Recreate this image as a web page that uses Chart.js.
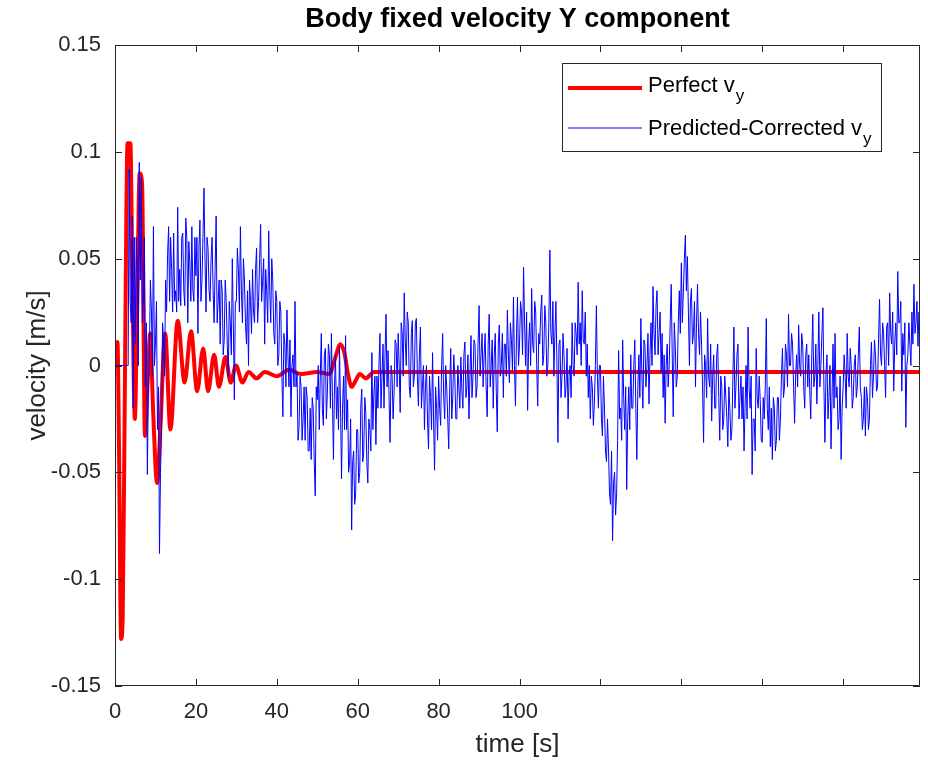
<!DOCTYPE html>
<html>
<head>
<meta charset="utf-8">
<title>Body fixed velocity Y component</title>
<script src="https://cdn.jsdelivr.net/npm/chart.js@4.4.1/dist/chart.umd.min.js"></script>
<style>
  body { margin: 0; background: #fff; }
  #wrap { width: 928px; height: 767px; }
</style>
</head>
<body>
<div id="wrap"><canvas id="chart"></canvas></div>
<script>
// axes
const xTicks = [0, 20, 40, 60, 80, 100, 120, 140, 160, 180];
const xLabels = ['0', '20', '40', '60', '80', '100', '', '', '', ''];
const yTicks = [-0.15, -0.1, -0.05, 0, 0.05, 0.1, 0.15];
const yLabels = ['-0.15', '-0.1', '-0.05', '0', '0.05', '0.1', '0.15'];

// Perfect v_y (time [s], velocity [m/s])
const perfectT = [0, 0.6, 1.0, 1.5, 1.9, 2.4, 2.8, 3.1, 3.8, 4.3, 4.9, 5.5, 6.1, 6.7, 7.4, 8.0, 8.7, 9.4,
  10.4, 11.2, 12.4, 13.7, 15.5, 17.2, 18.8, 20.3, 21.8, 23.0, 24.5, 25.7, 27.3, 28.6, 29.9, 31.5,
  33, 35, 37, 40, 43, 46, 50, 53, 54.5, 55.7, 56.7, 57.6, 58.5, 59.5, 60.5, 62, 64, 70, 100, 150, 199];
const perfectV = [0.008, 0.011, -0.04, -0.128, -0.118, -0.02, 0.07, 0.104, 0.104, 0.04, -0.025, 0.03,
  0.09, 0.085, -0.033, -0.01, 0.015, -0.02, -0.055, -0.03, 0.015, -0.03, 0.021, -0.008, 0.016,
  -0.012, 0.008, -0.012, 0.005, -0.01, 0.004, -0.008, 0.0, -0.008, -0.003, -0.006, -0.003, -0.005,
  -0.002, -0.004, -0.003, -0.004, 0.004, 0.010, 0.006, -0.004, -0.01, -0.007, -0.004, -0.006,
  -0.003, -0.003, -0.003, -0.003, -0.003];

// Predicted-Corrected v_y, one sample every 0.25 s from t = 0
const predictedStep = 0.25;
const predictedV = [
  0, 0, 0, 0, 0, 0, 0, 0, 0, 0, 0, 0, 0, 0, 0.092, 0.03, 0.02, 0.07, -0.02, 0.06,
  0.01, 0.06, 0.045, 0.0, 0.095, 0.04, 0.088, 0.02, 0.03, 0.06, -0.01, 0.02, -0.051, -0.01, 0.005, 0.04, 0.026, -0.005, 0.065, 0.0,
  0.01, 0.03, -0.03, -0.01, -0.088, -0.05, -0.03, 0.02, 0.012, -0.005, 0.04, 0.025, 0.052, 0.065, 0.03, 0.06, 0.045, 0.025, 0.062, 0.03,
  0.035, 0.025, 0.074, 0.03, 0.045, 0.028, 0.06, 0.062, 0.035, 0.028, 0.069, 0.06, 0.02, 0.058, 0.048, 0.03, 0.065, 0.035, 0.03, 0.06,
  0.042, 0.06, 0.015, 0.055, 0.068, 0.03, 0.04, 0.06, 0.083, 0.05, 0.025, 0.06, 0.055, 0.035, 0.03, 0.05, 0.06, 0.035, 0.02, 0.045,
  0.07, 0.02, 0.03, 0.04, 0.01, 0.04, 0.035, 0.005, 0.012, 0.04, 0.03, 0.01, -0.005, 0.03, 0.02, 0.005, 0.05, 0.02, -0.016, 0.03,
  0.03, 0.055, 0.045, 0.025, 0.065, 0.035, 0.02, 0.05, 0.04, 0.02, 0.01, 0.035, 0.0, 0.04, 0.03, 0.015, 0.045, 0.025, 0.02, 0.045,
  0.055, 0.02, 0.03, 0.05, 0.066, 0.03, 0.04, 0.05, 0.01, 0.045, 0.035, 0.02, 0.063, 0.035, 0.02, 0.05, 0.04, 0.015, 0.01, 0.035,
  0.03, 0.0, 0.005, 0.03, 0.025, -0.005, -0.024, 0.015, 0.01, -0.01, 0.026, 0.005, -0.01, 0.012, -0.024, 0.0, 0.005, -0.01, 0.03, -0.01,
  -0.003, -0.035, -0.029, -0.005, -0.01, -0.035, -0.025, -0.01, -0.035, -0.01, -0.015, -0.04, -0.04, -0.02, -0.044, -0.015, -0.02, -0.045, -0.061, -0.01,
  -0.016, 0.0, -0.03, -0.005, 0.015, -0.02, -0.028, 0.005, 0.008, -0.025, -0.013, 0.01, 0.005, -0.02, 0.015, -0.015, -0.044, -0.01, 0.005, -0.025,
  -0.01, -0.03, 0.009, -0.02, -0.053, -0.02, -0.005, -0.03, 0.014, -0.03, -0.016, -0.05, -0.045, -0.025, -0.077, -0.045, -0.04, -0.065, -0.06, -0.03,
  -0.03, -0.055, -0.05, -0.02, -0.011, -0.045, -0.04, -0.015, -0.022, -0.045, -0.055, -0.025, -0.03, -0.04, 0.006, -0.03, -0.013, -0.005, -0.037, -0.005,
  -0.02, 0.0, 0.015, -0.02, -0.005, 0.01, -0.02, 0.005, 0.024, -0.01, 0.007, -0.015, -0.036, 0.0, -0.005, -0.025, -0.012, 0.012, 0.01, -0.01,
  0.015, 0.0, -0.022, 0.02, 0.015, -0.005, 0.034, 0.012, 0.0, 0.025, 0.02, -0.01, -0.015, 0.015, 0.021, -0.01, -0.005, 0.02, 0.022, -0.005,
  -0.019, 0.005, 0.018, -0.02, -0.01, 0.0, -0.03, -0.01, 0.0, -0.025, -0.039, -0.005, -0.015, -0.03, 0.006, -0.025, -0.049, -0.01, -0.02, -0.035,
  -0.005, -0.02, -0.028, 0.0, 0.015, -0.015, -0.025, 0.0, -0.01, -0.025, -0.039, -0.01, 0.008, -0.025, -0.015, 0.005, -0.005, -0.025, -0.025, 0.0,
  -0.01, -0.02, 0.004, -0.012, -0.02, 0.005, 0.011, -0.015, -0.01, 0.005, -0.025, -0.005, 0.014, -0.015, -0.005, 0.012, 0.01, -0.015, -0.01, 0.01,
  0.028, -0.005, 0.005, 0.015, -0.01, 0.005, 0.015, -0.01, -0.024, 0.01, 0.024, -0.01, 0.0, 0.012, -0.02, 0.005, 0.015, -0.012, -0.031, 0.01,
  0.019, -0.005, 0.0, 0.015, -0.015, 0.01, 0.01, -0.005, 0.026, 0.005, -0.008, 0.02, 0.012, -0.002, 0.032, 0.0, -0.019, 0.015, 0.032, 0.0,
  0.01, 0.03, 0.025, 0.005, 0.046, 0.02, 0.0, 0.025, -0.021, 0.01, 0.02, 0.0, 0.036, 0.01, 0.006, 0.03, 0.025, 0.0, -0.019, 0.015,
  0.01, 0.025, 0.033, 0.0, 0.005, 0.028, 0.02, -0.005, 0.0, 0.02, 0.054, 0.015, 0.01, 0.03, -0.005, 0.015, 0.03, 0.0, -0.036, 0.01,
  0.012, -0.015, -0.005, 0.015, 0.005, -0.015, -0.01, 0.008, -0.025, -0.005, 0.0, -0.015, 0.02, 0.0, -0.005, 0.02, 0.015, 0.005, 0.039, 0.01,
  0.02, 0.0, 0.035, 0.012, 0.01, 0.025, -0.005, 0.01, -0.015, 0.0, -0.025, -0.005, -0.01, -0.028, -0.018, 0.0, 0.028, -0.005, -0.02, 0.0,
  0.0, -0.025, -0.033, -0.005, -0.02, -0.04, -0.045, -0.025, -0.04, -0.06, -0.065, -0.04, -0.082, -0.055, -0.05, -0.07, -0.06, -0.035, 0.007, -0.025,
  -0.02, -0.035, 0.012, -0.015, -0.03, -0.01, -0.058, -0.025, -0.01, -0.03, 0.005, -0.02, -0.02, 0.0, 0.012, -0.02, -0.044, -0.01, 0.005, -0.015,
  0.022, -0.005, -0.02, 0.012, 0.01, -0.01, 0.0, 0.015, -0.018, 0.005, 0.02, 0.0, 0.037, 0.015, 0.005, 0.028, 0.035, 0.005, 0.015, 0.025,
  -0.003, 0.015, -0.015, 0.005, -0.027, 0.0, 0.01, -0.01, 0.0, 0.02, 0.038, 0.005, -0.024, 0.02, 0.01, -0.01, -0.005, 0.02, 0.035, 0.015,
  0.048, 0.02, 0.034, 0.05, 0.061, 0.035, 0.051, 0.025, 0.0, 0.03, 0.036, 0.01, 0.015, 0.03, -0.01, 0.02, 0.038, 0.015, 0.005, 0.025,
  0.01, -0.01, -0.036, 0.005, 0.0, -0.015, 0.022, -0.005, -0.01, 0.01, -0.026, -0.005, 0.005, -0.02, -0.02, 0.005, 0.01, -0.015, -0.035, -0.005,
  -0.01, -0.03, -0.025, -0.005, -0.015, -0.025, -0.038, -0.01, -0.02, -0.035, -0.03, -0.005, 0.018, -0.02, -0.01, 0.005, 0.01, -0.025, -0.015, -0.005,
  -0.025, -0.01, -0.04, -0.02, 0.0, -0.025, 0.018, -0.01, -0.02, -0.005, -0.051, -0.025, -0.025, -0.04, 0.008, -0.015, -0.02, -0.005, -0.016, -0.035,
  -0.036, -0.015, -0.025, -0.01, 0.022, -0.02, -0.03, -0.01, -0.038, -0.02, -0.044, -0.015, -0.02, -0.04, -0.035, -0.015, -0.015, -0.035, -0.025, -0.005,
  0.008, -0.015, -0.01, 0.01, 0.005, -0.01, 0.024, 0.0, 0.0, 0.015, 0.01, -0.01, -0.027, -0.005, 0.005, -0.01, 0.019, 0.0, -0.005, 0.015,
  0.01, -0.01, -0.02, 0.005, 0.01, -0.01, 0.005, -0.012, -0.025, 0.005, 0.024, -0.01, -0.005, 0.01, -0.018, 0.0, 0.025, -0.01, 0.0, 0.015,
  0.027, -0.01, -0.036, -0.005, 0.005, -0.025, -0.015, 0.0, -0.039, -0.015, 0.01, -0.02, 0.015, -0.015, -0.01, -0.03, -0.025, -0.005, -0.044, -0.02,
  -0.01, 0.005, -0.005, -0.02, 0.015, -0.005, -0.01, 0.008, 0.0, -0.02, -0.015, 0.0, 0.005, -0.015, -0.01, 0.005, 0.018, -0.01, -0.015, -0.03,
  -0.025, -0.01, -0.033, -0.01, -0.015, -0.03, -0.025, 0.0, 0.011, -0.015, -0.005, 0.012, 0.005, -0.012, -0.01, 0.012, 0.031, 0.005, 0.0, 0.02,
  0.015, 0.0, -0.015, 0.018, 0.02, 0.0, 0.034, 0.015, 0.01, 0.025, -0.012, 0.01, 0.02, 0.005, 0.044, 0.02, 0.02, 0.03, -0.012, 0.015,
  0.005, 0.02, -0.029, 0.0, 0.005, 0.02, 0.01, 0.0, 0.025, 0.01, 0.038, 0.015, 0.02, 0.03, 0.009, 0.025, 0.013
];

const axisColor = '#262626';
const fontFamily = "'Liberation Sans', Arial, Helvetica, sans-serif";
const tickLen = 7;

Chart.defaults.font.family = fontFamily;
Chart.defaults.color = axisColor;

// box round the plot with inward ticks on all four sides
const frame = {
  id: 'frame',
  afterDatasetsDraw(chart) {
    const { ctx, chartArea: a, scales: { x, y } } = chart;
    ctx.save();
    ctx.strokeStyle = axisColor;
    ctx.lineWidth = 1;
    ctx.beginPath();
    ctx.rect(Math.round(a.left) + 0.5, Math.round(a.top) + 0.5,
      Math.round(a.right - a.left) - 1, Math.round(a.bottom - a.top) - 1);
    xTicks.forEach(v => {
      const px = Math.round(x.getPixelForValue(v)) + 0.5;
      ctx.moveTo(px, a.bottom); ctx.lineTo(px, a.bottom - tickLen);
      ctx.moveTo(px, a.top); ctx.lineTo(px, a.top + tickLen);
    });
    yTicks.forEach(v => {
      const py = Math.round(y.getPixelForValue(v)) + 0.5;
      ctx.moveTo(a.left, py); ctx.lineTo(a.left + tickLen, py);
      ctx.moveTo(a.right, py); ctx.lineTo(a.right - tickLen, py);
    });
    ctx.stroke();
    ctx.restore();
  }
};

// legend with subscripts, drawn by hand
const subLegend = {
  id: 'subLegend',
  afterDraw(chart) {
    const { ctx, chartArea: a } = chart;
    const right = a.right - 38, left = right - 320, top = 63, h = 89;
    ctx.save();
    ctx.fillStyle = '#fff';
    ctx.fillRect(left, top, right - left, h);
    ctx.strokeStyle = axisColor;
    ctx.lineWidth = 1;
    ctx.strokeRect(left + 0.5, top + 0.5, right - left - 1, h - 1);
    const rows = [{ ds: chart.data.datasets[0], y: 88, base: 92 }, { ds: chart.data.datasets[1], y: 128, base: 135 }];
    rows.forEach(r => {
      ctx.strokeStyle = r.ds.borderColor;
      ctx.lineWidth = r.ds.borderWidth;
      ctx.beginPath();
      ctx.moveTo(left + 6, r.y);
      ctx.lineTo(left + 80, r.y);
      ctx.stroke();
      ctx.fillStyle = '#000';
      ctx.textBaseline = 'alphabetic';
      ctx.font = '22px ' + fontFamily;
      const main = r.ds.label.main;
      ctx.fillText(main, left + 86, r.base);
      const w = ctx.measureText(main).width;
      ctx.font = '17px ' + fontFamily;
      ctx.fillText(r.ds.label.sub, left + 86 + w + 1, r.base + 9);
    });
    ctx.restore();
  }
};

new Chart(document.getElementById('chart'), {
  type: 'line',
  data: {
    datasets: [
      {
        label: { main: 'Perfect v', sub: 'y' },
        data: perfectT.map((t, i) => ({ x: t, y: perfectV[i] })),
        borderColor: '#ff0000',
        borderWidth: 4,
        borderJoinStyle: 'round',
        cubicInterpolationMode: 'monotone',
        pointRadius: 0,
        order: 1
      },
      {
        label: { main: 'Predicted-Corrected v', sub: 'y' },
        data: predictedV.map((v, i) => ({ x: i * predictedStep, y: v })),
        borderColor: '#0000ff',
        borderWidth: 1,
        pointRadius: 0,
        tension: 0,
        order: 0
      }
    ]
  },
  options: {
    responsive: true,
    maintainAspectRatio: false,
    animation: false,
    layout: { padding: { left: 0, right: 8, top: 0, bottom: 0 } },
    plugins: {
      legend: { display: false },
      tooltip: { enabled: false },
      title: {
        display: true,
        fullSize: false,
        text: 'Body fixed velocity Y component',
        color: '#000',
        font: { size: 27, weight: 'bold' },
        padding: { top: 3, bottom: 9.6 }
      }
    },
    scales: {
      x: {
        type: 'linear',
        min: 0,
        max: 199,
        grid: { display: false, drawTicks: false },
        border: { display: false },
        afterBuildTicks: s => { s.ticks = xTicks.map(v => ({ value: v })); },
        afterFit: s => { s.height = 81; },
        ticks: {
          autoSkip: false,
          maxRotation: 0,
          padding: 13,
          color: axisColor,
          font: { size: 22 },
          callback: (v, i) => xLabels[i]
        },
        title: {
          display: true,
          text: 'time [s]',
          color: axisColor,
          font: { size: 26 },
          padding: { top: 0, bottom: 6.4 }
        }
      },
      y: {
        min: -0.15,
        max: 0.15,
        grid: { display: false, drawTicks: false },
        border: { display: false },
        afterBuildTicks: s => { s.ticks = yTicks.map(v => ({ value: v })); },
        afterFit: s => { s.width = 115; },
        ticks: {
          padding: 14,
          color: axisColor,
          font: { size: 22 },
          callback: (v, i) => yLabels[i]
        },
        title: {
          display: true,
          text: 'velocity [m/s]',
          color: axisColor,
          font: { size: 26 },
          padding: { top: 22.4, bottom: 0 }
        }
      }
    }
  },
  plugins: [frame, subLegend]
});
</script>
</body>
</html>
